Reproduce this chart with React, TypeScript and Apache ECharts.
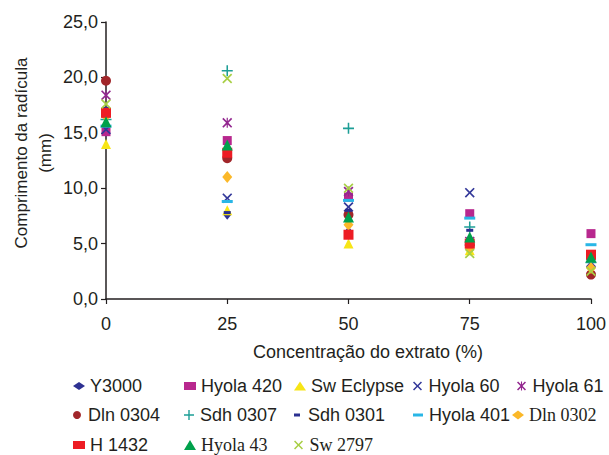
import React, { useEffect, useRef } from "react";
import * as echarts from "echarts";

const concentrations = [0, 25, 50, 75, 100];
const yTicks = [0, 5, 10, 15, 20, 25];

const seriesNames = [
  "Y3000", "Hyola 420", "Sw Eclypse", "Hyola 60", "Hyola 61",
  "Dln 0304", "Sdh 0307", "Sdh 0301", "Hyola 401", "Dln 0302",
  "H 1432", "Hyola 43", "Sw 2797",
];

const y3000 = [15.1, 7.6, 6.1, 5.4, 3.4];
const hyola420 = [15.1, 14.3, 9.2, 7.7, 5.9];
const swEclypse = [14.0, 8.0, 5.0, 4.4, 2.6];
const hyola60 = [15.3, 9.1, 8.3, 9.6, 3.3];
const hyola61 = [18.4, 15.9, 9.7, 5.2, 3.2];
const dln0304 = [19.7, 12.7, 7.6, 4.9, 2.2];
const sdh0307 = [16.2, 20.6, 15.4, 6.5, 3.3];
const sdh0301 = [17.2, 7.8, 8.0, 6.2, 3.7];
const hyola401 = [15.6, 8.8, 8.9, 7.3, 4.9];
const dln0302 = [16.5, 11.0, 6.7, 4.6, 2.8];
const h1432 = [16.8, 13.2, 5.8, 5.0, 4.0];
const hyola43 = [16.0, 13.9, 7.4, 5.6, 3.8];
const sw2797 = [17.6, 19.9, 10.0, 4.1, 2.5];

const allValues = [
  y3000, hyola420, swEclypse, hyola60, hyola61, dln0304, sdh0307,
  sdh0301, hyola401, dln0302, h1432, hyola43, sw2797,
];

const X_PATH = "path://M0,1.2 L1.2,0 L5,3.8 L8.8,0 L10,1.2 L6.2,5 L10,8.8 L8.8,10 L5,6.2 L1.2,10 L0,8.8 L3.8,5 Z";
const PLUS_PATH = "path://M4.3,0 H5.7 V4.3 H10 V5.7 H5.7 V10 H4.3 V5.7 H0 V4.3 H4.3 Z";
const AST_PATH = "path://M0,1.2 L1.2,0 L5,3.8 L8.8,0 L10,1.2 L6.2,5 L10,8.8 L8.8,10 L5,6.2 L1.2,10 L0,8.8 L3.8,5 Z M4.4,0 H5.6 V10 H4.4 Z";
const DASH_PATH = "path://M0,0 H10 V3 H0 Z";
const SDASH_PATH = "path://M0,0 H6 V3 H0 Z";

const styles = [
  { color: "#2e3192", symbol: "diamond", size: [8, 10] },
  { color: "#b8288e", symbol: "rect", size: 9 },
  { color: "#f7e516", symbol: "triangle", size: 10 },
  { color: "#34399a", symbol: X_PATH, size: 10 },
  { color: "#93278f", symbol: AST_PATH, size: 10 },
  { color: "#a1262a", symbol: "circle", size: 10 },
  { color: "#1d9e96", symbol: PLUS_PATH, size: 11 },
  { color: "#2b3090", symbol: SDASH_PATH, size: [7, 3] },
  { color: "#29b6e6", symbol: DASH_PATH, size: [11, 3] },
  { color: "#fbb829", symbol: "diamond", size: [10, 12] },
  { color: "#ed1c24", symbol: "rect", size: 10 },
  { color: "#00a14b", symbol: "triangle", size: 11 },
  { color: "#a8cf45", symbol: X_PATH, size: 10 },
];

const TEXT = "#231f20";
const SANS = "'Liberation Sans', Arial, sans-serif";
const SERIF = "'Liberation Serif', 'Times New Roman', serif";

// legend layout: [seriesIndex, left, top, itemWidth, itemHeight, serif]
const legendLayout: [number, number, number, number, number, boolean][] = [
  [0, 73, 377, 12, 8, false],
  [1, 184, 377, 12, 8, false],
  [2, 294, 377, 12, 9, false],
  [3, 413, 377, 12, 9, false],
  [4, 517, 377, 12, 9, false],
  [5, 73, 406, 12, 8, false],
  [6, 184, 406, 12, 10, false],
  [7, 294, 406, 12, 3, false],
  [8, 413, 406, 12, 3, false],
  [9, 512, 406, 12, 9, true],
  [10, 73, 436, 12, 8, false],
  [11, 184, 436, 12, 10, true],
  [12, 294, 436, 12, 9, true],
];

export default function App() {
  const ref = useRef<HTMLDivElement>(null);
  useEffect(() => {
    if (!ref.current) return;
    const chart = echarts.init(ref.current, null, { renderer: "svg" });
    const series = seriesNames.map((name, i) => ({
      name,
      type: "scatter",
      symbol: styles[i].symbol,
      symbolSize: styles[i].size,
      itemStyle: { color: styles[i].color, opacity: 1 },
      data: concentrations.map((c, j) => [c, allValues[i][j]]),
      z: 2,
    }));
    const legends = legendLayout.map(([idx, left, top, w, h, serif]) => ({
      data: [seriesNames[idx]],
      left,
      top,
      itemWidth: w,
      itemHeight: h,
      padding: 0,
      selectedMode: false,
      textStyle: {
        color: TEXT,
        fontSize: 18,
        fontFamily: serif ? SERIF : SANS,
      },
    }));
    chart.setOption({
      animation: false,
      backgroundColor: "#ffffff",
      grid: { left: 106, right: 15, top: 22, bottom: 156, containLabel: false },
      xAxis: {
        type: "value",
        min: 0,
        max: 100,
        interval: 25,
        axisLine: { show: true, lineStyle: { color: TEXT, width: 1.5 } },
        axisTick: { show: true, inside: false, length: 5, lineStyle: { color: TEXT, width: 1.2 } },
        axisLabel: { color: TEXT, fontSize: 18, fontFamily: SANS, margin: 16 },
        splitLine: { show: false },
      },
      yAxis: {
        type: "value",
        min: 0,
        max: 25,
        interval: 5,
        axisLine: { show: true, lineStyle: { color: TEXT, width: 1.5 } },
        axisTick: { show: true, inside: false, length: 5, lineStyle: { color: TEXT, width: 1.2 } },
        axisLabel: {
          color: TEXT,
          fontSize: 18,
          fontFamily: SANS,
          margin: 8,
          formatter: (v: number) => v.toFixed(1).replace(".", ","),
        },
        splitLine: { show: false },
      },
      legend: legends,
      graphic: [
        {
          type: "text",
          x: 21,
          y: 153,
          rotation: Math.PI / 2,
          style: {
            text: "Comprimento da radícula",
            fill: TEXT,
            font: `17px ${SANS}`,
            textAlign: "center",
            textVerticalAlign: "middle",
          },
        },
        {
          type: "text",
          x: 45,
          y: 153,
          rotation: Math.PI / 2,
          style: {
            text: "(mm)",
            fill: TEXT,
            font: `17px ${SANS}`,
            textAlign: "center",
            textVerticalAlign: "middle",
          },
        },
        {
          type: "text",
          x: 368,
          y: 352,
          style: {
            text: "Concentração do extrato (%)",
            fill: TEXT,
            font: `18px ${SANS}`,
            textAlign: "center",
            textVerticalAlign: "middle",
          },
        },
      ],
      series,
    });
    return () => chart.dispose();
  }, []);
  return (
    <div
      ref={ref}
      style={{ position: "absolute", left: 0, top: 0, width: 609, height: 455 }}
    />
  );
}
